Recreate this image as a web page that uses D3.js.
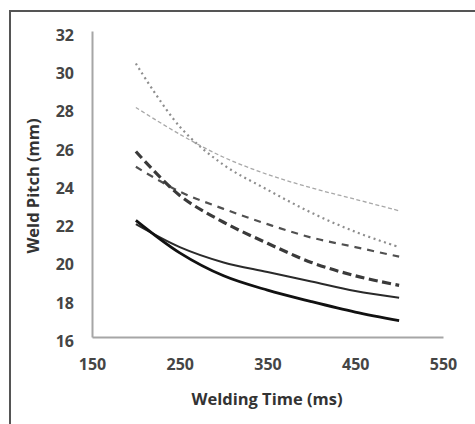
<!DOCTYPE html>
<html><head><meta charset="utf-8">
<script src="https://cdn.jsdelivr.net/npm/d3@7"></script>
<style>body{margin:0;background:#fff}svg{display:block}</style>
</head><body>
<svg id="c" width="475" height="424"></svg>
<script>
const times = [200, 250, 300, 350, 400, 450, 500];
const seriesA = [30.3, 27.0, 25.0, 23.7, 22.5, 21.5, 20.7]; // light dotted
const seriesB = [28.0, 26.6, 25.4, 24.5, 23.8, 23.2, 22.6]; // light dash-dot
const seriesC = [25.7, 23.4, 22.0, 20.9, 19.9, 19.2, 18.7]; // thick dashed
const seriesD = [24.9, 23.6, 22.7, 21.9, 21.2, 20.7, 20.2]; // thin dashed
const seriesE = [22.1, 20.4, 19.2, 18.45, 17.85, 17.3, 16.85]; // thick solid
const seriesF = [21.9, 20.7, 19.9, 19.4, 18.9, 18.4, 18.05]; // thin solid
const xTicks = [150, 250, 350, 450, 550];
const yTicks = [16, 18, 20, 22, 24, 26, 28, 30, 32];

const svg = d3.select("#c");
const x = d3.scaleLinear().domain([150, 550]).range([92, 443]);
const y = d3.scaleLinear().domain([16, 32]).range([337, 31]);

// frame
svg.append("line").attr("x1",10).attr("x2",475).attr("y1",11).attr("y2",11).attr("stroke","#555").attr("stroke-width",2);
svg.append("line").attr("x1",10).attr("x2",10).attr("y1",10).attr("y2",424).attr("stroke","#555").attr("stroke-width",2);

// axes
const xAxis = svg.append("g").attr("transform","translate(0,337)")
  .call(d3.axisBottom(x).tickValues(xTicks).tickSize(0).tickPadding(22));
const yAxis = svg.append("g").attr("transform","translate(92,0)")
  .call(d3.axisLeft(y).tickValues(yTicks).tickSize(0).tickPadding(18));
[xAxis, yAxis].forEach(g => {
  g.select(".domain").attr("stroke","#a6a6a6").attr("stroke-width",2);
  g.selectAll("text").attr("font-family","Open Sans, sans-serif").attr("font-size",16)
   .attr("font-weight",700).attr("fill","#454545");
});
yAxis.selectAll("text").attr("dy","0.58em");

svg.append("text").attr("x",267).attr("y",405).attr("text-anchor","middle")
  .attr("font-family","Open Sans, sans-serif").attr("font-size",16.5).attr("font-weight",700)
  .attr("fill","#333").text("Welding Time (ms)");
svg.append("text").attr("transform","translate(39,186) rotate(-90)").attr("text-anchor","middle")
  .attr("font-family","Open Sans, sans-serif").attr("font-size",16.5).attr("font-weight",700)
  .attr("fill","#333").text("Weld Pitch (mm)");

const line = d3.line().x((d,i)=>x(times[i])).y(d=>y(d)).curve(d3.curveCatmullRom.alpha(0.5));
const styles = [
  {d: seriesA, c:"#8e8e8e", w:2.2, dash:"2,3.5"},
  {d: seriesB, c:"#a8a8a8", w:1.3, dash:"4,2.5"},
  {d: seriesD, c:"#505050", w:2.2, dash:"7,6"},
  {d: seriesC, c:"#3a3a3a", w:3.2, dash:"9,4.5"},
  {d: seriesF, c:"#2a2a2a", w:2, dash:null},
  {d: seriesE, c:"#111", w:2.8, dash:null}
];
styles.forEach(s => {
  svg.append("path").attr("d", line(s.d)).attr("fill","none")
    .attr("stroke", s.c).attr("stroke-width", s.w)
    .attr("stroke-dasharray", s.dash);
});
</script>
</body></html>
